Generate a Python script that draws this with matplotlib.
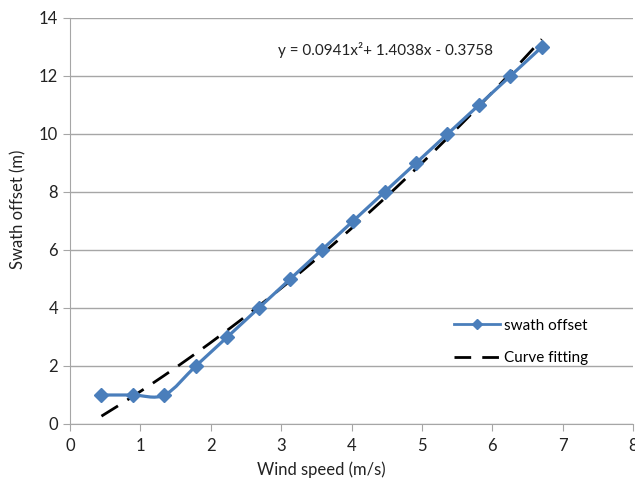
import numpy as np
import matplotlib
matplotlib.use("Agg")
import matplotlib.pyplot as plt
from matplotlib.path import Path
from matplotlib.patches import PathPatch
from matplotlib.lines import Line2D

plt.rcParams['font.family'] = ['Lato', 'DejaVu Sans']

wind_speed = [0.447, 0.894, 1.341, 1.788, 2.235, 2.682, 3.129, 3.576,
              4.023, 4.470, 4.917, 5.364, 5.811, 6.258, 6.705]
swath_offset = [1, 1, 1, 2, 3, 4, 5, 6, 7, 8, 9, 10, 11, 12, 13]
fit_coef = [0.0941, 1.4038, -0.3758]
equation = "y = 0.0941x\u00b2+ 1.4038x - 0.3758"
xticks = [0, 1, 2, 3, 4, 5, 6, 7, 8]
yticks = [0, 2, 4, 6, 8, 10, 12, 14]

blue = '#4A7EBB'
grid_c = '#A6A6A6'
txt_c = '#222222'

fig = plt.figure(figsize=(6.35, 4.78), dpi=100)
ax = fig.add_axes([70/635, 1 - 424/478, 563/635, 406/478])

# Smoothed line (Excel-style Catmull-Rom via cubic Bezier)
x = np.array(wind_speed, float)
y = np.array(swath_offset, float)
verts = [(x[0], y[0])]
codes = [Path.MOVETO]
t = 1/6
for i in range(len(x) - 1):
    p0 = (x[i-1], y[i-1]) if i > 0 else (x[i], y[i])
    p1 = (x[i], y[i]); p2 = (x[i+1], y[i+1])
    p3 = (x[i+2], y[i+2]) if i + 2 < len(x) else (x[i+1], y[i+1])
    c1 = (p1[0] + (p2[0]-p0[0])*t, p1[1] + (p2[1]-p0[1])*t)
    c2 = (p2[0] - (p3[0]-p1[0])*t, p2[1] - (p3[1]-p1[1])*t)
    verts += [c1, c2, p2]
    codes += [Path.CURVE4]*3
ax.add_patch(PathPatch(Path(verts, codes), fill=False, edgecolor=blue, lw=2.3, zorder=3))
ax.plot(x, y, linestyle='none', marker='D', markersize=7.5, color=blue, zorder=4)

# Curve fit
xf = np.linspace(x[0], x[-1], 200)
yf = np.polyval(fit_coef, xf)
ax.plot(xf, yf, color='black', lw=2.0, dashes=(7, 4), zorder=2)

ax.text(2.95, 12.9, equation, fontsize=11, color=txt_c, va='center', ha='left')

ax.set_xlim(0, 8)
ax.set_ylim(0, 14)
ax.set_xticks(xticks)
ax.set_yticks(yticks)
ax.yaxis.grid(True, color=grid_c, lw=1)
ax.set_axisbelow(True)
for s in ['top', 'right']:
    ax.spines[s].set_visible(False)
for s in ['left', 'bottom']:
    ax.spines[s].set_color(grid_c)
ax.tick_params(axis='both', colors=grid_c, labelcolor=txt_c, labelsize=12, length=5, direction='out')
ax.tick_params(axis='x', pad=5)
ax.set_xlabel('Wind speed (m/s)', fontsize=12, color=txt_c)
ax.set_ylabel('Swath offset (m)', fontsize=12, color=txt_c)
ax.xaxis.set_label_coords((321-70)/563, -(470-424)/406)
ax.yaxis.set_label_coords(-(70-18)/563, (424-209)/406)
ax.xaxis.label.set_va('center')
ax.yaxis.label.set_va('center')

handles = [Line2D([], [], color=blue, lw=2, marker='D', markersize=5),
           Line2D([], [], color='black', lw=2, dashes=(6, 4))]
ax.legend(handles, ['swath offset', 'Curve fitting'], frameon=False, fontsize=11,
          loc='upper left', bbox_to_anchor=((440-70)/563, (424-305)/406),
          handlelength=3.0, handletextpad=0.3, labelspacing=1.2)

fig.savefig('out.png', dpi=100)
